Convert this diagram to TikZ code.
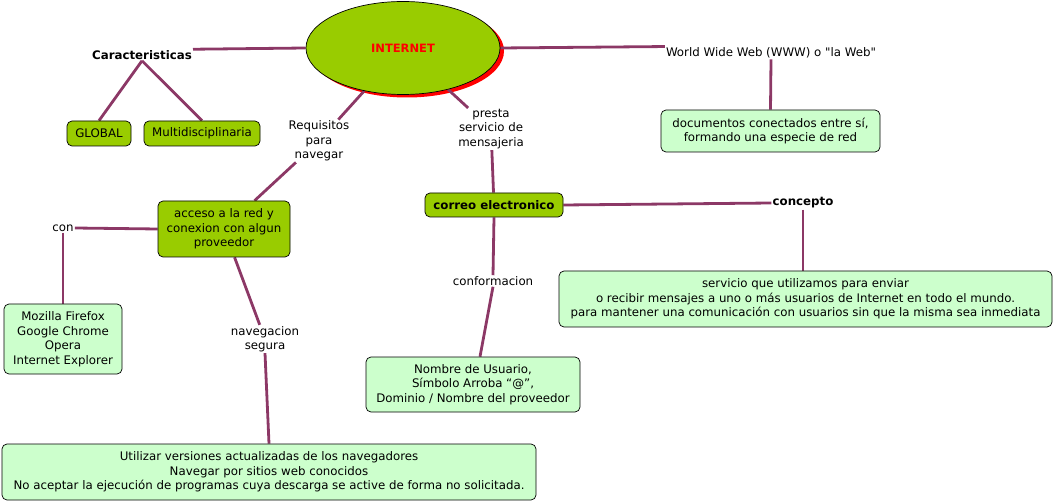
\documentclass[tikz,border=0pt]{standalone}
\usepackage{fontspec}
\setmainfont{DejaVu Sans}
\newfontfamily\nolig{DejaVu Sans}
\usetikzlibrary{shapes.geometric}
\pgfdeclarelayer{background}
\pgfsetlayers{background,main}
\definecolor{linkc}{RGB}{140,56,102}
\definecolor{dgreen}{RGB}{153,204,0}
\definecolor{lgreen}{RGB}{204,255,204}
\tikzset{
  lnk/.style={draw=linkc, line width=2.8pt},
  dbox/.style={draw=black, fill=dgreen, rounded corners=5pt, line width=0.7pt, align=center, inner sep=0pt},
  lbox/.style={draw=black, fill=lgreen, rounded corners=5pt, line width=0.7pt, align=center, inner sep=0pt},
  lbl/.style={align=center, inner sep=1pt},
  bfl/.style={font=\fontsize{11.8}{14.5}\selectfont\bfseries},
  every node/.style={font=\fontsize{11.8}{14.5}\selectfont}
}
\begin{document}
\begin{tikzpicture}[x=1pt,y=-1pt]
\useasboundingbox (0,0) rectangle (1054,502);
% central ellipse
\node[ellipse, draw=black, fill=dgreen, line width=0.7pt, minimum width=194, minimum height=93, inner sep=0pt, text=red, font=\fontsize{11.5}{14}\selectfont\bfseries] (inet) at (403,48) {INTERNET};
% labels
\node[lbl, bfl] (car) at (142,55) {Caracteristicas};
\node[lbl] (req) at (319,141) {Requisitos\\para\\navegar};
\node[lbl] (con) at (63,228) {con};
\node[lbl] (nav) at (265,339) {navegacion\\segura};
\node[lbl] (pre) at (491,129) {presta\\servicio de\\mensajeria};
\node[lbl, bfl] (cpt) at (803,203) {concepto};
\node[lbl] (conf) at (493,281) {conformacion};
\node[lbl, font=\fontsize{11.8}{14.5}\nolig] (www) at (771,53) {World Wide Web (WWW) o "la Web"};
% boxes
\node[dbox, minimum width=64, minimum height=25] (glob) at (99,133.5) {GLOBAL};
\node[dbox, minimum width=116, minimum height=25] (multi) at (202,133.5) {Multidisciplinaria};
\node[dbox, minimum width=132, minimum height=56] (acc) at (224,229) {acceso a la red y\\conexion con algun\\proveedor};
\node[lbox, minimum width=118, minimum height=70] (moz) at (63,339) {Mozilla Firefox\\Google Chrome\\Opera\\Internet Explorer};
\node[lbox, minimum width=534, minimum height=56] (bot) at (269,472) {Utilizar versiones actualizadas de los navegadores\\Navegar por sitios web conocidos\\No aceptar la ejecución de programas cuya descarga se active de forma no solicitada.};
\node[dbox, minimum width=138, minimum height=24, bfl] (cor) at (494,205) {correo electronico};
\node[lbox, minimum width=493, minimum height=56] (serv) at (805.5,299) {servicio que utilizamos para enviar\\o recibir mensajes a uno o más usuarios de Internet en todo el mundo.\\para mantener una comunicación con usuarios sin que la misma sea inmediata};
\node[lbox, minimum width=214, minimum height=55] (nom) at (473,384.5) {Nombre de Usuario,\\Símbolo Arroba “@”,\\Dominio / Nombre del proveedor};
\node[lbox, minimum width=219, minimum height=42] (doc) at (770.5,131) {documentos conectados entre sí,\\formando una especie de red};
\begin{pgfonlayer}{background}
\fill[red] ([shift={(4,3)}]inet.center) ellipse [x radius=97, y radius=46.5];
\draw[lnk] (inet.west) -- (car.north east);
\draw[lnk] (car.south) -- (glob.north);
\draw[lnk] (car.south) -- (multi.north);
\draw[lnk] (inet) -- (req);
\draw[lnk] (req) -- (acc);
\draw[lnk] (acc.west) -- (con.east);
\draw[lnk] (con.south) -- (moz.north);
\draw[lnk] (acc) -- (nav);
\draw[lnk] (nav.south) -- (bot.north);
\draw[lnk] (inet) -- (pre);
\draw[lnk] (pre) -- (cor);
\draw[lnk] (cor.east) -- (cpt.west);
\draw[lnk] (cpt.south) -- (cpt.south |- serv.north);
\draw[lnk] (cor.south) -- (conf.north);
\draw[lnk] (conf.south) -- ([xshift=7pt]nom.north);
\draw[lnk] (inet.east) -- (www.north west);
\draw[lnk] (www.south) -- (doc.north);
\end{pgfonlayer}
\end{tikzpicture}
\end{document}
